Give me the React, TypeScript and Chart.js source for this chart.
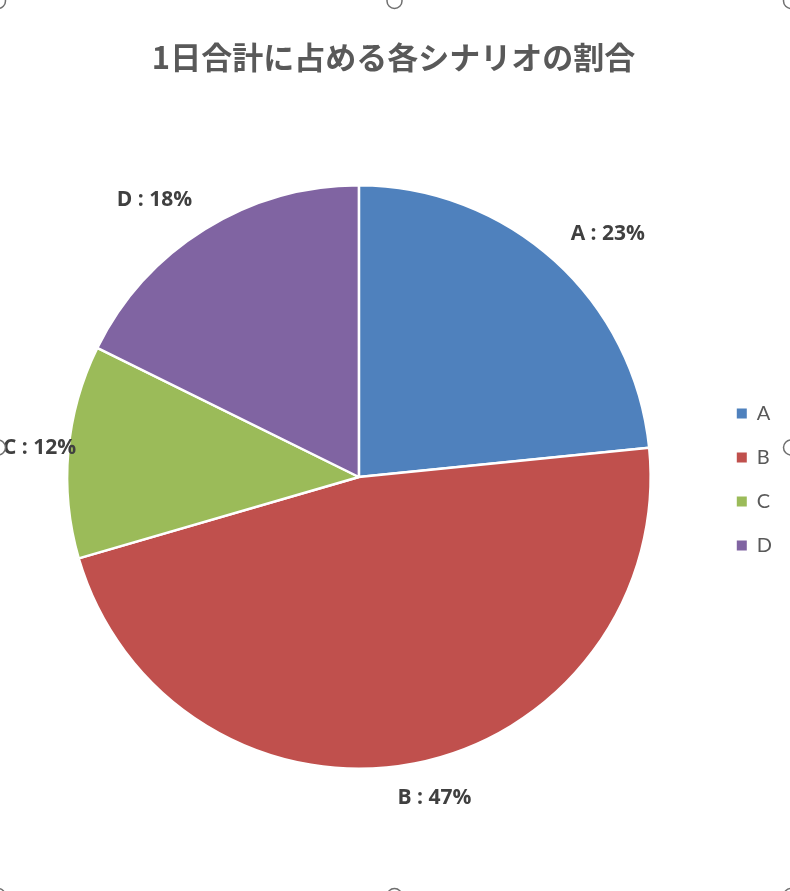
import React, { useEffect, useRef } from "react";
import { Chart, registerables } from "chart.js";

Chart.register(...registerables);

const categories = ["A", "B", "C", "D"];
const shares = [23.4, 47.1, 11.8, 17.7];
const sliceColors = ["#4F81BD", "#C0504D", "#9BBB59", "#8064A2"];
const chartTitle = "1日合計に占める各シナリオの割合";

const W = 790;
const H = 891;

const clamp1 = (v: number) => Math.max(-1, Math.min(1, v));

const outsideLabels = {
  id: "outsideLabels",
  afterDatasetsDraw(chart: any) {
    const ctx = chart.ctx as CanvasRenderingContext2D;
    const meta = chart.getDatasetMeta(0);
    const data = chart.data.datasets[0].data as number[];
    const total = data.reduce((a, b) => a + b, 0);
    ctx.save();
    ctx.font = 'bold 21px "Open Sans"';
    ctx.fillStyle = "#404040";
    ctx.textAlign = "center";
    ctx.textBaseline = "middle";
    meta.data.forEach((arc: any, i: number) => {
      const { x, y, startAngle, endAngle, outerRadius } = arc.getProps(
        ["x", "y", "startAngle", "endAngle", "outerRadius"],
        true
      );
      const mid = (startAngle + endAngle) / 2;
      const ux = Math.cos(mid);
      const uy = Math.sin(mid);
      const text = `${chart.data.labels[i]} : ${Math.round((data[i] / total) * 100)}%`;
      const w = ctx.measureText(text).width;
      const h = 20;
      const r = outerRadius + 24;
      let cx = x + r * ux + (w / 2) * clamp1(ux * 2.2);
      const cy = y + r * uy + (h / 2) * clamp1(uy * 2) + 1;
      cx = Math.max(cx, 3 + w / 2);
      ctx.fillText(text, cx, cy);
    });
    ctx.restore();
  },
};

const selectionHandles = {
  id: "selectionHandles",
  afterDraw(chart: any) {
    const ctx = chart.ctx as CanvasRenderingContext2D;
    const x0 = -2, x1 = 791, y0 = 1, y1 = 896;
    const xm = (x0 + x1) / 2, ym = (y0 + y1) / 2 - 1;
    const pts = [
      [x0, y0], [xm, y0], [x1, y0],
      [x0, ym], [x1, ym],
      [x0, y1], [xm, y1], [x1, y1],
    ];
    ctx.save();
    ctx.lineWidth = 1.5;
    ctx.strokeStyle = "#6f6f6f";
    ctx.fillStyle = "#ffffff";
    pts.forEach(([px, py]) => {
      ctx.beginPath();
      ctx.arc(px, py, 7.5, 0, Math.PI * 2);
      ctx.fill();
      ctx.stroke();
    });
    ctx.restore();
  },
};

export default function App() {
  const canvasRef = useRef<HTMLCanvasElement | null>(null);

  useEffect(() => {
    if (!canvasRef.current) return;
    const baseGen = (Chart.overrides as any).doughnut.plugins.legend.labels.generateLabels;
    const chart = new Chart(canvasRef.current, {
      type: "pie",
      data: {
        labels: categories,
        datasets: [
          {
            data: shares,
            backgroundColor: sliceColors,
            borderColor: "#ffffff",
            borderWidth: 2.5,
            hoverOffset: 0,
          },
        ],
      },
      options: {
        responsive: false,
        animation: false,
        events: [],
        layout: { padding: { left: 5, right: 8, top: 0, bottom: 121 } },
        plugins: {
          tooltip: { enabled: false },
          title: {
            display: true,
            text: chartTitle,
            color: "#595959",
            font: {
              family: '"Noto Sans CJK JP", sans-serif',
              size: 31,
              weight: "bold",
              lineHeight: 1.2,
            },
            padding: { top: 38.4, bottom: 108.4 },
          },
          legend: {
            display: true,
            position: "right",
            align: "center",
            title: {
              display: true,
              text: " ",
              font: { size: 10, lineHeight: 1 },
              padding: { top: 179, bottom: 0 },
            },
            labels: {
              boxWidth: 10,
              boxHeight: 10,
              padding: 24,
              color: "#595959",
              font: { family: "Lato", size: 20 },
              generateLabels: (c: any) =>
                baseGen(c).map((l: any) => ({
                  ...l,
                  strokeStyle: l.fillStyle,
                  lineWidth: 0,
                })),
            },
          },
        },
      },
      plugins: [outsideLabels, selectionHandles],
    });
    return () => chart.destroy();
  }, []);

  return (
    <div
      style={{
        position: "fixed",
        left: 0,
        top: 0,
        width: W,
        height: H,
        background: "#ffffff",
        overflow: "hidden",
      }}
    >
      <canvas ref={canvasRef} width={W} height={H} style={{ width: W, height: H, display: "block" }} />
    </div>
  );
}
